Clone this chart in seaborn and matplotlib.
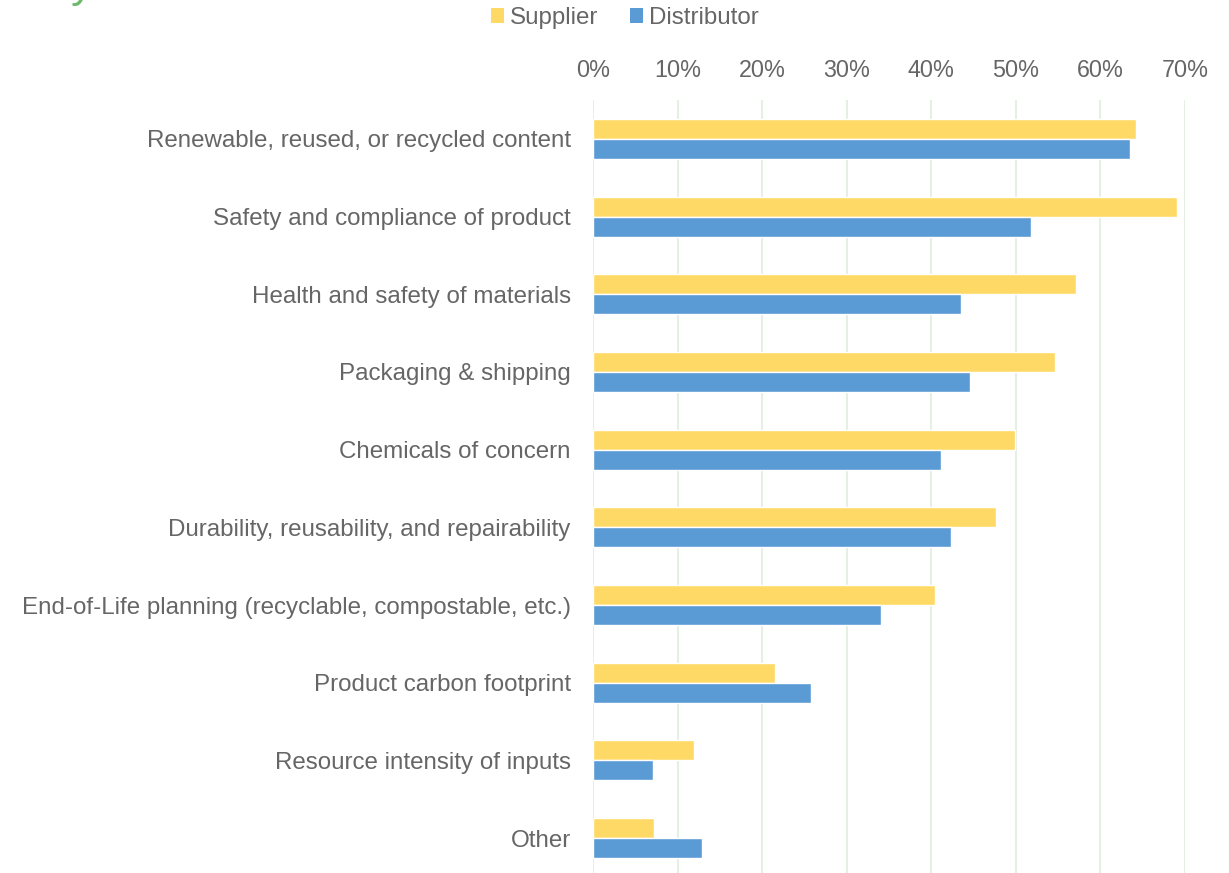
import matplotlib
matplotlib.use("Agg")
import matplotlib.pyplot as plt
from matplotlib.patches import Patch
from matplotlib.ticker import FuncFormatter
import pandas as pd
import seaborn as sns

categories = [
    "Renewable, reused, or recycled content",
    "Safety and compliance of product",
    "Health and safety of materials",
    "Packaging & shipping",
    "Chemicals of concern",
    "Durability, reusability, and repairability",
    "End-of-Life planning (recyclable, compostable, etc.)",
    "Product carbon footprint",
    "Resource intensity of inputs",
    "Other",
]
supplier = [0.642, 0.691, 0.571, 0.546, 0.499, 0.476, 0.404, 0.215, 0.119, 0.072]
distributor = [0.635, 0.518, 0.435, 0.446, 0.411, 0.423, 0.341, 0.258, 0.071, 0.129]
series = ["Supplier", "Distributor"]
x_ticks = [0.0, 0.1, 0.2, 0.3, 0.4, 0.5, 0.6, 0.7]

colors = {"Supplier": "#FFD966", "Distributor": "#5B9BD5"}
text_gray = "#666666"

df = pd.DataFrame({
    "category": categories * 2,
    "series": [series[0]] * len(categories) + [series[1]] * len(categories),
    "share": supplier + distributor,
})

sns.set_theme(style="white")
plt.rcParams["font.family"] = ["Liberation Sans", "DejaVu Sans"]

W, H = 1229, 873
fig = plt.figure(figsize=(W / 100, H / 100), dpi=100)
left, right, top, bottom = 593, 1185, 100, 877
ax = fig.add_axes([left / W, (H - bottom) / H, (right - left) / W, (bottom - top) / H])

sns.barplot(
    data=df, y="category", x="share", hue="series", order=categories,
    hue_order=series, palette=colors, orient="h", width=0.515,
    saturation=1, legend=False, ax=ax,
)

ax.set_xlim(0, 0.70)
ax.set_ylim(len(categories) - 0.5, -0.5)
ax.set_xticks(x_ticks)
ax.xaxis.set_major_formatter(FuncFormatter(lambda v, _: f"{v * 100:.0f}%"))
ax.xaxis.tick_top()
ax.tick_params(axis="x", length=0, pad=13, labelsize=16.8, labelcolor=text_gray)
ax.tick_params(axis="y", length=0, pad=16, labelsize=17.4, labelcolor=text_gray)
ax.set_xlabel("")
ax.set_ylabel("")
ax.grid(axis="x", color="#E4F0E2", linewidth=1.5)
ax.grid(axis="y", visible=False)
ax.set_axisbelow(True)
for s in ax.spines.values():
    s.set_visible(False)

handles = [Patch(facecolor=colors[s], edgecolor="none", label=s) for s in series]
leg = fig.legend(
    handles=handles, loc="center", bbox_to_anchor=(625 / W, 1 - 18 / H),
    ncol=2, frameon=False, fontsize=17.4, handlelength=0.55, handleheight=0.55,
    handletextpad=0.25, columnspacing=1.3,
)
for t in leg.get_texts():
    t.set_color(text_gray)

# Chart heading sits above the canvas; only its descenders show
fig.text(94 / W, 1 + 3 / H, "Priority", color="#6DBB6A", fontsize=32,
         ha="right", va="baseline")

fig.savefig("out.png", dpi=100)
